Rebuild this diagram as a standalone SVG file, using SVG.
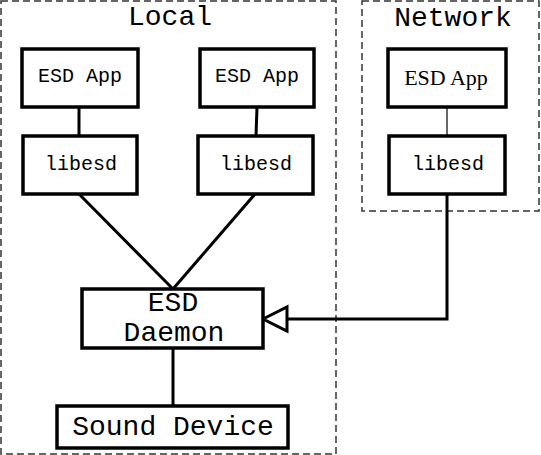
<svg xmlns="http://www.w3.org/2000/svg" width="541" height="455" viewBox="0 0 541 455">
<style>
.grp{fill:none;stroke:#333;stroke-width:1.5;stroke-dasharray:7,4}
.box{fill:#fff;stroke:#000;stroke-width:3.5}
.mono{font-family:"Liberation Mono","Courier New",monospace;fill:#000;text-anchor:middle}
.serif{font-family:"Liberation Serif","Times New Roman",serif;fill:#000;text-anchor:middle}
.c{fill:none;stroke:#000;stroke-width:3}
</style>
<rect width="541" height="455" fill="#fff"/>
<g id="local">
<rect class="grp" x="1" y="1" width="335" height="453"/>
<text class="mono" x="170" y="25" font-size="28">Local</text>
</g>
<g id="network">
<rect class="grp" x="362" y="1" width="177" height="210"/>
<text class="mono" x="453" y="26" font-size="28">Network</text>
</g>
<g id="connectors">
<line class="c" x1="79" y1="107" x2="79" y2="136"/>
<line class="c" x1="257" y1="107" x2="256" y2="136"/>
<line x1="447" y1="107" x2="447" y2="136" stroke="#000" stroke-width="1.2"/>
<line class="c" x1="79" y1="194" x2="173" y2="289"/>
<line class="c" x1="255" y1="194" x2="173" y2="289"/>
<line class="c" x1="173" y1="348" x2="173" y2="406"/>
<polyline class="c" points="447,194 447,319 287,319"/>
<polygon points="263,319 287,307 287,331" fill="#fff" stroke="#000" stroke-width="3"/>
</g>
<g id="app1">
<rect class="box" x="22" y="49" width="116" height="58"/>
<text class="mono" x="80" y="82" font-size="20">ESD App</text>
</g>
<g id="app2">
<rect class="box" x="200" y="49" width="114" height="58"/>
<text class="mono" x="257" y="82" font-size="20">ESD App</text>
</g>
<g id="app3">
<rect class="box" x="388" y="49" width="118" height="58"/>
<text class="serif" x="446" y="85" font-size="22">ESD App</text>
</g>
<g id="libesd1">
<rect class="box" x="23" y="136" width="114" height="58"/>
<text class="mono" x="81" y="170" font-size="20">libesd</text>
</g>
<g id="libesd2">
<rect class="box" x="198" y="136" width="115" height="58"/>
<text class="mono" x="256" y="170" font-size="20">libesd</text>
</g>
<g id="libesd3">
<rect class="box" x="389" y="136" width="116" height="58"/>
<text class="mono" x="448" y="170" font-size="20">libesd</text>
</g>
<g id="daemon">
<rect class="box" x="82" y="289" width="181" height="59"/>
<text class="mono" x="173" y="311" font-size="28">ESD</text>
<text class="mono" x="174" y="341" font-size="28">Daemon</text>
</g>
<g id="sound">
<rect class="box" x="57" y="406" width="231" height="42"/>
<text class="mono" x="173" y="435" font-size="28">Sound Device</text>
</g>
</svg>
